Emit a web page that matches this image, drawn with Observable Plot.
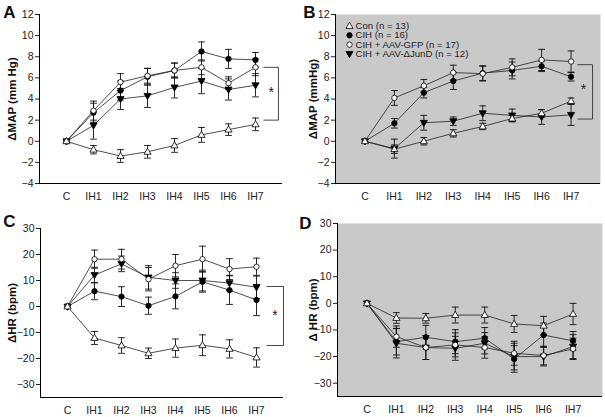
<!DOCTYPE html>
<html>
<head>
<meta charset="utf-8">
<script src="https://cdn.jsdelivr.net/npm/d3@7"></script>
<script src="https://cdn.jsdelivr.net/npm/@observablehq/plot@0.6"></script>
<style>
  body { margin: 0; background: #fff; }
  #wrap { position: relative; width: 605px; height: 417px; overflow: hidden; }
  #wrap > svg { position: absolute; overflow: visible; }
</style>
</head>
<body>
<div id="wrap"></div>
<script>
// ---------- data ----------
const cats = ["C", "IH1", "IH2", "IH3", "IH4", "IH5", "IH6", "IH7"];
const groups = ["Con (n = 13)", "CIH (n = 16)", "CIH + AAV-GFP (n = 17)", "CIH + AAV-\u0394JunD (n = 12)"];

// Panel A: ΔMAP
const mapA_con  = [0, -0.8, -1.4, -1.0, -0.4, 0.6, 1.1, 1.6];
const mapA_cih  = [0, 2.7, 4.8, 6.1, 6.7, 8.5, 7.8, 7.7];
const mapA_gfp  = [0, 2.9, 5.6, 6.2, 6.7, 7.0, 5.5, 7.0];
const mapA_jund = [0, 1.5, 4.0, 4.3, 5.1, 5.7, 4.9, 5.3];
const mapA_con_err  = [0, 0.4, 0.6, 0.6, 0.65, 0.7, 0.55, 0.6];
const mapA_cih_err  = [0, 0.9, 0.9, 0.8, 0.7, 0.9, 0.9, 0.7];
const mapA_gfp_err  = [0, 0.9, 0.8, 0.7, 0.7, 0.7, 0.6, 0.8];
const mapA_jund_err = [0, 1.3, 1.0, 1.1, 1.0, 1.2, 1.0, 1.1];

// Panel B: ΔMAP
const mapB_con  = [0, -0.75, 0, 0.75, 1.4, 2.15, 2.65, 3.8];
const mapB_cih  = [0, 1.7, 4.6, 5.7, 6.45, 6.7, 7.1, 6.1];
const mapB_gfp  = [0, 4.1, 5.25, 6.5, 6.4, 7.0, 7.7, 7.55];
const mapB_jund = [0, -0.7, 1.75, 1.9, 2.65, 2.45, 2.3, 2.5];
const mapB_con_err  = [0, 0.4, 0.35, 0.35, 0.3, 0.3, 0.35, 0.3];
const mapB_cih_err  = [0, 0.45, 0.5, 0.8, 0.7, 0.8, 0.5, 0.4];
const mapB_gfp_err  = [0, 0.7, 0.6, 0.7, 0.7, 0.8, 1.0, 1.0];
const mapB_jund_err = [0, 0.9, 0.7, 0.4, 0.7, 0.6, 0.7, 1.0];

// Panel C: ΔHR
const hrC_con  = [0, -12.1, -15.0, -18.0, -16.0, -14.9, -16.3, -19.6];
const hrC_cih  = [0, 5.9, 3.8, 0.3, 3.9, 9.5, 6.3, 2.5];
const hrC_gfp  = [0, 18.2, 18.2, 10.5, 15.7, 18.2, 14.4, 15.3];
const hrC_jund = [0, 12.1, 16.4, 11.2, 10.0, 10.0, 9.0, 7.4];
const hrC_con_err  = [0, 2.5, 3, 2, 3.5, 4, 3.5, 3.7];
const hrC_cih_err  = [0, 3.3, 3.8, 3.3, 4.8, 4, 5.5, 6];
const hrC_gfp_err  = [0, 3.5, 3.8, 4.5, 4.3, 5, 4, 3.3];
const hrC_jund_err = [0, 3, 3, 4.5, 3, 4, 3, 4.3];

// Panel D: ΔHR
const hrD_con  = [0, -5.5, -5.6, -4.4, -4.4, -7.75, -8.4, -4.0];
const hrD_cih  = [0, -14.4, -12.75, -14.4, -13.1, -20.9, -11.9, -14.1];
const hrD_gfp  = [0, -12.5, -16.6, -15.6, -16.6, -18.75, -19.6, -17.1];
const hrD_jund = [0, -15, -16.6, -16.9, -15, -20, -20, -16.25];
const hrD_con_err  = [0, 2, 1.8, 3, 3, 3.2, 3.5, 4];
const hrD_cih_err  = [0, 5, 4.5, 4.5, 4, 5, 4.5, 3.5];
const hrD_gfp_err  = [0, 4, 4.5, 4.5, 4, 4.5, 3.5, 4];
const hrD_jund_err = [0, 5.5, 4.5, 4.5, 4, 5, 3.5, 4.5];

const mapTicks = [-4, -2, 0, 2, 4, 6, 8, 10, 12];
const hrTicks = [-30, -20, -10, 0, 10, 20, 30];

// ---------- symbols ----------
function rOf(size) { return Math.sqrt(size / Math.PI); }
const triUp = { draw(ctx, size) { const r = rOf(size) * 1.25; ctx.moveTo(0, -r); ctx.lineTo(r * 0.95, r * 0.65); ctx.lineTo(-r * 0.95, r * 0.65); ctx.closePath(); } };
const triDown = { draw(ctx, size) { const r = rOf(size) * 1.25; ctx.moveTo(0, r); ctx.lineTo(r * 0.95, -r * 0.65); ctx.lineTo(-r * 0.95, -r * 0.65); ctx.closePath(); } };
const cap = { draw(ctx, size) { const r = rOf(size); ctx.moveTo(-r, 0); ctx.lineTo(r, 0); } };
const styles = [
  { symbol: triUp, fill: "white", r: 3 },
  { symbol: "circle", fill: "black", r: 2.7 },
  { symbol: "circle", fill: "white", r: 2.7 },
  { symbol: triDown, fill: "black", r: 3 }
];

function rowsOf(series, errs) {
  const rows = [];
  series.forEach((s, gi) => s.forEach((v, i) => rows.push({ g: gi, i, v, e: errs[gi][i] })));
  return rows;
}

function panel(o) {
  const rows = rowsOf(o.series, o.errs);
  const eb = rows.filter(d => d.e > 0);
  const marks = [];
  if (o.gray) marks.push(Plot.frame({ fill: "#c9c9c9", stroke: null }));
  marks.push(
    Plot.axisY({ ticks: o.ticks, tickSize: 4, tickPadding: 2, label: null }),
    Plot.axisX({ ticks: d3.range(cats.length), tickFormat: i => cats[i], tickSize: 0, tickPadding: 9, label: null }),
    Plot.ruleX([-1], { stroke: "black", strokeWidth: 1 }),
    Plot.ruleY([o.domain[0]], { stroke: "black", strokeWidth: 1 }),
    Plot.line(rows, { x: "i", y: "v", z: "g", stroke: "#222", strokeWidth: 0.8 }),
    Plot.ruleX(eb, { x: "i", y1: d => d.v - d.e, y2: d => d.v + d.e, stroke: "#111", strokeWidth: 0.9 }),
    Plot.dot(eb, { x: "i", y: d => d.v + d.e, symbol: cap, r: 3.4, stroke: "#111", strokeWidth: 0.9, fill: "none" }),
    Plot.dot(eb, { x: "i", y: d => d.v - d.e, symbol: cap, r: 3.4, stroke: "#111", strokeWidth: 0.9, fill: "none" })
  );
  [1, 3, 2, 0].forEach(gi => {
    const st = styles[gi];
    marks.push(Plot.dot(rows.filter(d => d.g === gi), { x: "i", y: "v", symbol: st.symbol, r: st.r, fill: st.fill, stroke: "black", strokeWidth: 0.8 }));
  });
  if (o.bracket) {
    const b = o.bracket;
    marks.push(
      Plot.link([{ x1: b.x1, x2: b.x2, y1: b.top, y2: b.top }, { x1: b.x1, x2: b.x2, y1: b.bottom, y2: b.bottom }, { x1: b.x2, x2: b.x2, y1: b.top, y2: b.bottom }],
        { x1: "x1", x2: "x2", y1: "y1", y2: "y2", stroke: "#333", strokeWidth: 0.9 }),
      Plot.text(["*"], { x: b.sx, y: b.sy, fontSize: 14, fill: "#222" })
    );
  }
  if (o.legend) {
    groups.forEach((gname, gi) => {
      const st = styles[gi];
      marks.push(
        Plot.dot([gname], { frameAnchor: "top-left", dx: 14, dy: 11.5 + gi * 9.3, symbol: st.symbol, r: st.r, fill: st.fill, stroke: "black", strokeWidth: 0.8 }),
        Plot.text([gname], { frameAnchor: "top-left", dx: 20, dy: 11.5 + gi * 9.3, textAnchor: "start", lineAnchor: "middle", fontSize: 9.6, fill: "#222" })
      );
    });
  }
  marks.push(
    Plot.text([o.label], { frameAnchor: "left", rotate: -90, dx: o.labelDx, textAnchor: "middle", lineAnchor: "middle", fontWeight: "bold", fontSize: 11.5, fill: "#111" }),
    Plot.text([o.letter], { frameAnchor: "top-left", dx: o.letterDx, dy: o.letterDy, textAnchor: "middle", lineAnchor: "middle", fontWeight: "bold", fontSize: 17, fill: "#111" })
  );
  const svg = Plot.plot({
    width: o.width, height: o.height,
    marginLeft: o.ml, marginRight: o.mr, marginTop: o.mt, marginBottom: o.mb,
    x: { type: "linear", domain: [-1, cats.length] },
    y: { domain: o.domain },
    style: { fontFamily: "'Liberation Sans', Arial, sans-serif", fontSize: "10.5px", color: "#222", background: "transparent", overflow: "visible" },
    marks
  });
  svg.style.left = o.left + "px";
  svg.style.top = o.top + "px";
  document.getElementById("wrap").appendChild(svg);
}

panel({
  left: 0, top: 0, width: 300, height: 205, ml: 39, mr: 18, mt: 14, mb: 22,
  series: [mapA_con, mapA_cih, mapA_gfp, mapA_jund],
  errs: [mapA_con_err, mapA_cih_err, mapA_gfp_err, mapA_jund_err],
  domain: [-4, 12], ticks: mapTicks, label: "\u0394MAP (mm Hg)", labelDx: -27,
  letter: "A", letterDx: -30, letterDy: -2,
  bracket: { x1: 7.3, x2: 7.85, top: 7.0, bottom: 2.0, sx: 7.58, sy: 4.6 }
});
panel({
  left: 300, top: 0, width: 305, height: 205, ml: 35, mr: 5, mt: 14, mb: 22, gray: true, legend: true,
  series: [mapB_con, mapB_cih, mapB_gfp, mapB_jund],
  errs: [mapB_con_err, mapB_cih_err, mapB_gfp_err, mapB_jund_err],
  domain: [-4, 12], ticks: mapTicks, label: "\u0394MAP (mmHg)", labelDx: -22,
  letter: "B", letterDx: -26, letterDy: -2,
  bracket: { x1: 7.22, x2: 7.73, top: 7.25, bottom: 2.1, sx: 7.42, sy: 4.9 }
});
panel({
  left: 0, top: 205, width: 300, height: 212, ml: 40, mr: 17, mt: 23, mb: 20,
  series: [hrC_con, hrC_cih, hrC_gfp, hrC_jund],
  errs: [hrC_con_err, hrC_cih_err, hrC_gfp_err, hrC_jund_err],
  domain: [-35, 30], ticks: hrTicks, label: "\u0394HR (bpm)", labelDx: -28,
  letter: "C", letterDx: -31, letterDy: -7,
  bracket: { x1: 7.37, x2: 8.0, top: 7.7, bottom: -15, sx: 7.68, sy: -3.3 }
});
panel({
  left: 300, top: 205, width: 305, height: 212, ml: 37, mr: 3, mt: 18, mb: 21, gray: true,
  series: [hrD_con, hrD_cih, hrD_gfp, hrD_jund],
  errs: [hrD_con_err, hrD_cih_err, hrD_gfp_err, hrD_jund_err],
  domain: [-35, 30], ticks: hrTicks, label: "\u0394 HR (bpm)", labelDx: -24,
  letter: "D", letterDx: -32, letterDy: 0
});
</script>
</body>
</html>
